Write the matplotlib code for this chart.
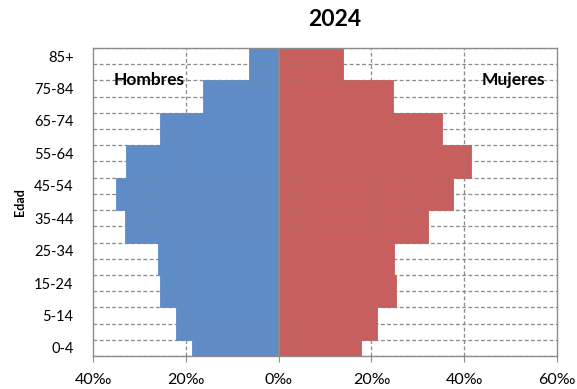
import numpy as np
import matplotlib
matplotlib.use("Agg")
import matplotlib.pyplot as plt

plt.rcParams['font.family'] = ['Lato', 'DejaVu Sans']

# one row per 5-year band (19 rows), values in per mille
hombres = [18.6, 22.2, 22.2, 25.6, 25.6, 25.9, 25.9, 33.0, 33.0, 35.0,
           35.0, 32.8, 32.8, 25.6, 25.6, 16.3, 16.3, 6.4, 6.4]
mujeres = [17.8, 21.2, 21.2, 25.4, 25.4, 24.9, 24.9, 32.3, 32.3, 37.6,
           37.6, 41.4, 41.4, 35.3, 35.3, 24.7, 24.7, 13.8, 13.8]
etiquetas = ['0-4', '5-14', '15-24', '25-34', '35-44', '45-54',
             '55-64', '65-74', '75-84', '85+']
xticks = [-40, -20, 0, 20, 40, 60]

azul = '#5F8CC6'
rojo = '#C65F5E'
gris = '#8c8c8c'

fig = plt.figure(figsize=(5.77, 3.89), dpi=100)
ax = fig.add_axes([0.1612, 0.0848, 0.8041, 0.7918])

y = np.arange(len(hombres))
ax.barh(y, -np.array(hombres), height=1.0, color=azul, edgecolor=azul, lw=0.6, zorder=2)
ax.barh(y, mujeres, height=1.0, color=rojo, edgecolor=rojo, lw=0.6, zorder=2)

# dashed grid at each row boundary and each x tick (faint over the bars)
for z, a in [(1, 1.0), (2.5, 0.18)]:
    for b in np.arange(-0.5, len(hombres), 1.0):
        ax.axhline(b, color=gris, lw=0.9, ls=(0, (3, 2)), alpha=a, zorder=z)
    for xt in xticks[1:-1]:
        ax.axvline(xt, color=gris, lw=0.9, ls=(0, (3, 2)), alpha=a, zorder=z)
ax.axvline(0, color=gris, lw=1.5, zorder=3)

ax.set_xlim(-40, 60)
ax.set_ylim(-0.5, len(hombres) - 0.5)
ax.set_xticks(xticks)
ax.set_xticklabels([f'{abs(v)}‰' for v in xticks], fontsize=11.5)
ax.set_yticks(np.arange(0, len(hombres), 2))
ax.set_yticklabels(etiquetas, fontsize=10.5)
ax.tick_params(axis='x', length=4, color=gris, pad=8)
ax.tick_params(axis='y', length=0, pad=14)
for s in ax.spines.values():
    s.set_color(gris)
    s.set_linewidth(1.0)

ax.set_ylabel('Edad', fontsize=9, fontweight='bold', labelpad=6)
fig.text(335 / 577, 1 - 20 / 389, '2024', ha='center', va='center',
         fontsize=16.5, fontweight='bold')
ax.text(-35.5, 16.5, 'Hombres', fontsize=12.5, fontweight='bold', va='center')
ax.text(57.5, 16.5, 'Mujeres', fontsize=12.5, fontweight='bold', va='center', ha='right')

fig.savefig('out.png', dpi=100)
